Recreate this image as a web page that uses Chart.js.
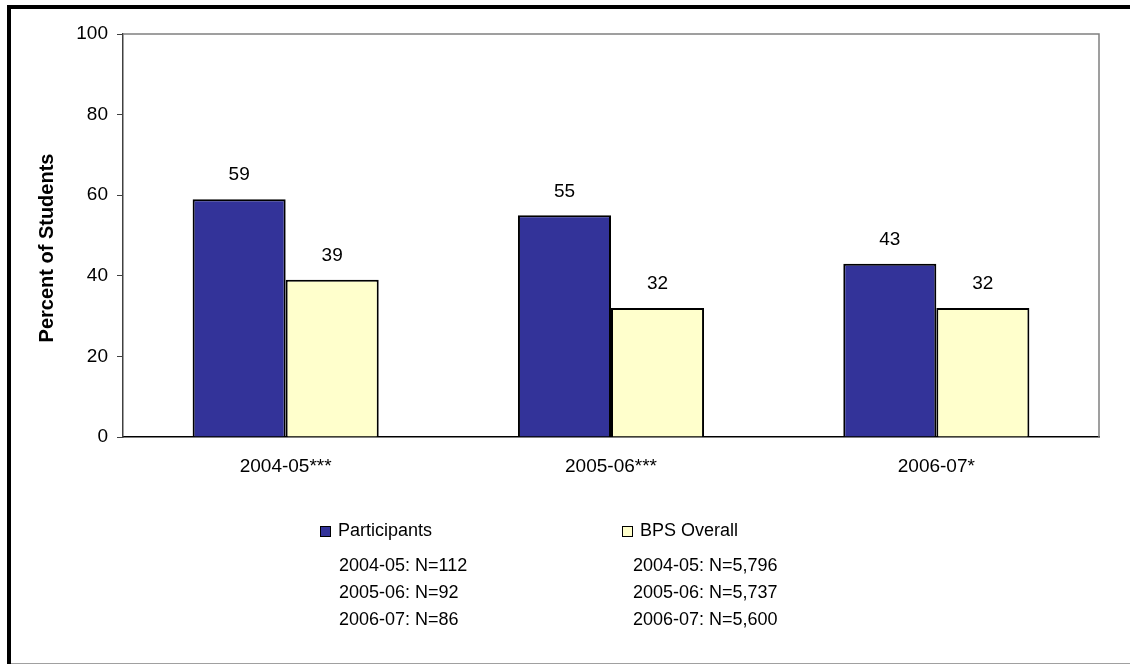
<!DOCTYPE html>
<html>
<head>
<meta charset="utf-8">
<script src="https://cdn.jsdelivr.net/npm/chart.js@4"></script>
<style>
  html, body { margin: 0; padding: 0; background: #fff; }
  canvas { display: block; }
</style>
</head>
<body>
<canvas id="chart" width="1130" height="664"></canvas>
<script>
const years = ["2004-05***", "2005-06***", "2006-07*"];
const participants = [59, 55, 43];
const bpsOverall = [39, 32, 32];
const yTicks = [0, 20, 40, 60, 80, 100];
const yTitle = "Percent of Students";
const participantNotes = ["2004-05: N=112", "2005-06: N=92", "2006-07: N=86"];
const bpsNotes = ["2004-05: N=5,796", "2005-06: N=5,737", "2006-07: N=5,600"];

const FONT = "Arial, 'Liberation Sans', sans-serif";

// frame round the page, grey top/right edge of plot area, y title
const framePlugin = {
  id: "frame",
  beforeDraw(chart) {
    const ctx = chart.ctx;
    ctx.save();
    ctx.fillStyle = "#fff";
    ctx.fillRect(0, 0, chart.width, chart.height);
    ctx.fillStyle = "#000";
    ctx.fillRect(7, 5, chart.width - 7, 4);
    ctx.fillRect(7, 5, 4, chart.height - 5);
    ctx.fillStyle = "#a0a0a0";
    ctx.fillRect(11, chart.height - 1, chart.width - 11, 1);
    ctx.restore();
  },
  afterDraw(chart) {
    const a = chart.chartArea;
    const ctx = chart.ctx;
    ctx.save();
    ctx.strokeStyle = "#808080";
    ctx.lineWidth = 1.5;
    ctx.beginPath();
    ctx.moveTo(a.left, a.top);
    ctx.lineTo(a.right, a.top);
    ctx.lineTo(a.right, a.bottom);
    ctx.stroke();

    // axis title sits a bit below the plot's middle in the original
    ctx.translate(47, 248);
    ctx.rotate(-Math.PI / 2);
    ctx.font = "bold 20px " + FONT;
    ctx.fillStyle = "#000";
    ctx.textAlign = "center";
    ctx.textBaseline = "middle";
    ctx.fillText(yTitle, 0, 0);
    ctx.restore();
  }
};

// value labels above bars
const labelPlugin = {
  id: "valueLabels",
  afterDatasetsDraw(chart) {
    const ctx = chart.ctx;
    ctx.save();
    ctx.font = "19px " + FONT;
    ctx.fillStyle = "#000";
    ctx.textAlign = "center";
    ctx.textBaseline = "middle";
    chart.data.datasets.forEach((ds, i) => {
      chart.getDatasetMeta(i).data.forEach((bar, j) => {
        ctx.fillText(ds.data[j], bar.x, bar.y - 24);
      });
    });
    ctx.restore();
  }
};

// legend with sample sizes underneath
const legendPlugin = {
  id: "notesLegend",
  afterDraw(chart) {
    const ctx = chart.ctx;
    const cols = [
      { x: 320, ds: chart.data.datasets[0], notes: participantNotes, noteX: 339 },
      { x: 622, ds: chart.data.datasets[1], notes: bpsNotes, noteX: 633 }
    ];
    ctx.save();
    ctx.font = "18px " + FONT;
    ctx.textBaseline = "middle";
    ctx.textAlign = "left";
    cols.forEach(c => {
      ctx.fillStyle = c.ds.backgroundColor;
      ctx.fillRect(c.x, 526, 10, 10);
      ctx.strokeStyle = "#000";
      ctx.lineWidth = 1;
      ctx.strokeRect(c.x + 0.5, 526.5, 10, 10);
      ctx.fillStyle = "#000";
      ctx.fillText(c.ds.label, c.x + 18, 531);
      c.notes.forEach((n, k) => {
        ctx.fillText(n, c.noteX, 566 + k * 27);
      });
    });
    ctx.restore();
  }
};

new Chart(document.getElementById("chart"), {
  type: "bar",
  data: {
    labels: years,
    datasets: [
      {
        label: "Participants",
        data: participants,
        backgroundColor: "#333399",
        borderColor: "#000",
        borderWidth: 2
      },
      {
        label: "BPS Overall",
        data: bpsOverall,
        backgroundColor: "#FFFFCC",
        borderColor: "#000",
        borderWidth: 2
      }
    ]
  },
  options: {
    responsive: false,
    animation: false,
    layout: { padding: { left: 0, top: 34, right: 31, bottom: 177 } },
    plugins: {
      legend: { display: false },
      tooltip: { enabled: false }
    },
    datasets: {
      bar: { categoryPercentage: 0.572, barPercentage: 1 }
    },
    scales: {
      x: {
        grid: { display: false },
        border: { display: true, color: "#000", width: 1.5 },
        ticks: {
          color: "#000",
          font: { family: FONT, size: 19 },
          padding: 10,
          maxRotation: 0
        },
        afterFit(scale) { scale.height = 50; }
      },
      y: {
        min: 0,
        max: 100,
        afterBuildTicks(scale) {
          scale.ticks = yTicks.map(v => ({ value: v }));
        },
        grid: {
          drawOnChartArea: false,
          drawTicks: true,
          tickLength: 6,
          color: "#404040"
        },
        border: { display: true, color: "#404040", width: 1.5 },
        ticks: {
          color: "#000",
          font: { family: FONT, size: 19 },
          padding: 9
        },
        afterFit(scale) { scale.width = 123; }
      }
    }
  },
  plugins: [framePlugin, labelPlugin, legendPlugin]
});
</script>
</body>
</html>
